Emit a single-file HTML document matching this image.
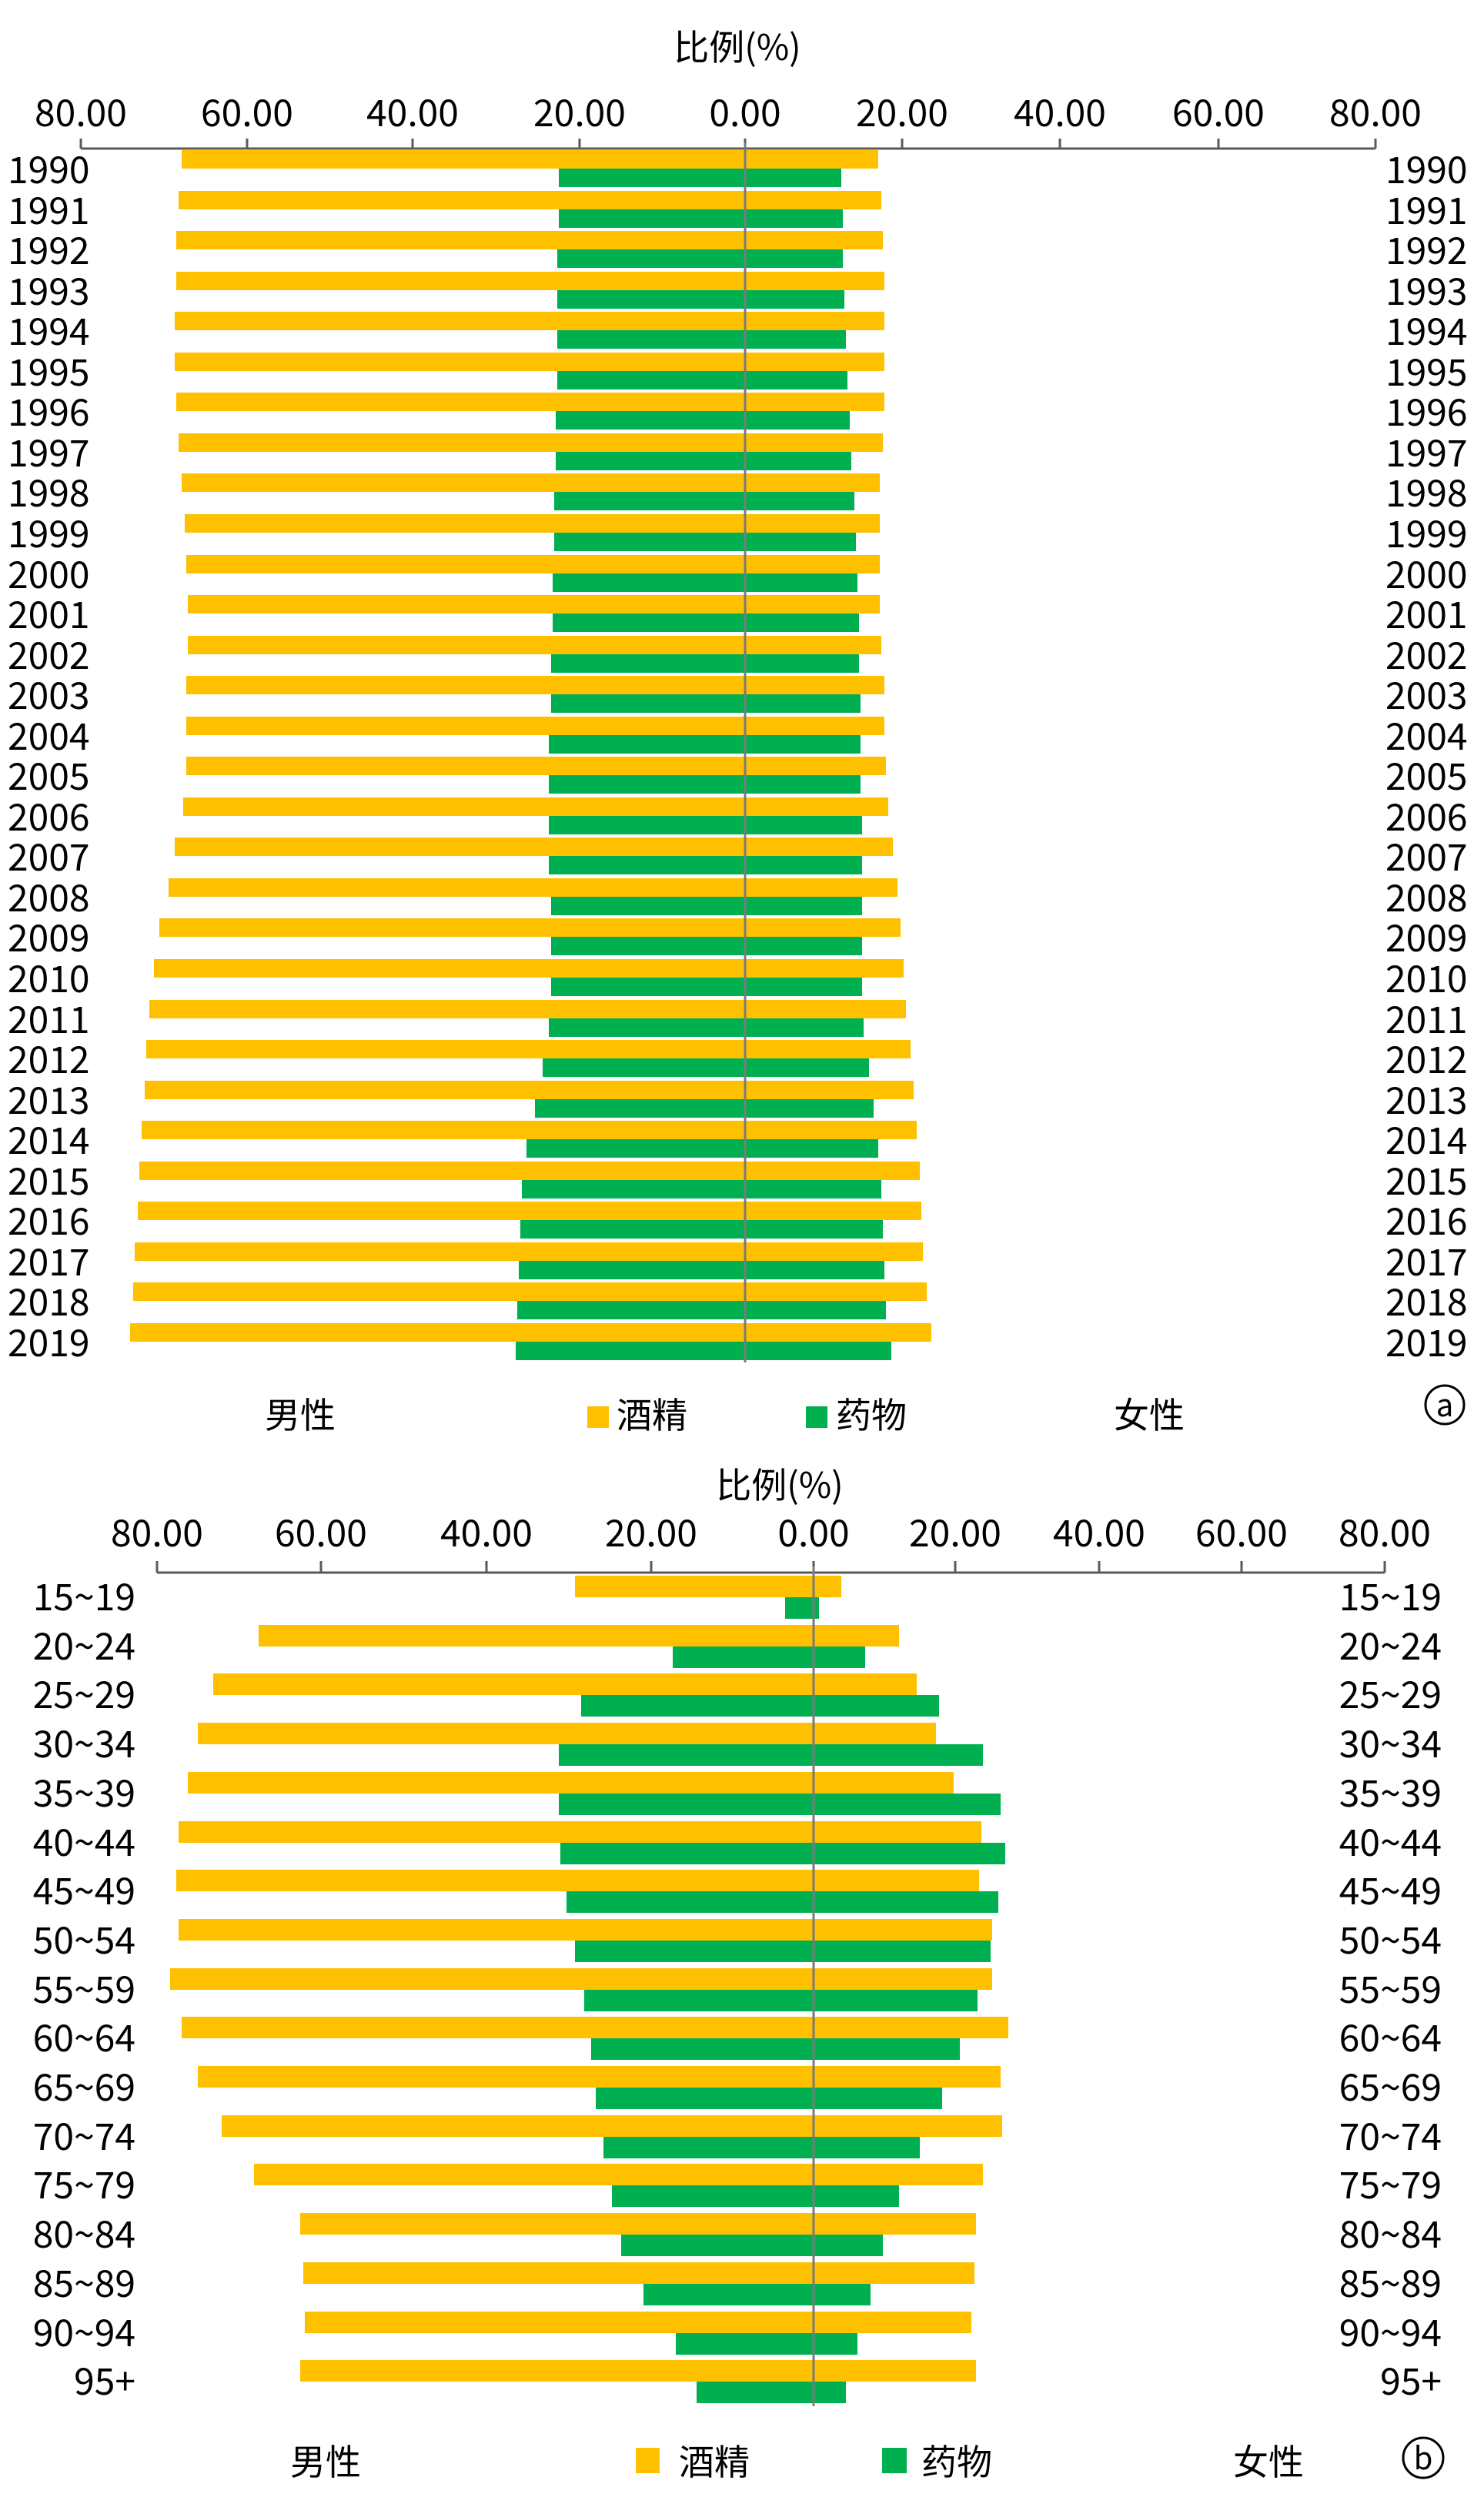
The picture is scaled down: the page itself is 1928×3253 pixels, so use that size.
<!DOCTYPE html>
<html><head><meta charset="utf-8"><style>
html,body{margin:0;padding:0;background:#fff}
svg{display:block}
text{font-family:"Noto Sans CJK SC","Liberation Sans",sans-serif;fill:#000}
</style></head><body>
<svg width="1928" height="3253" viewBox="0 0 1928 3253" xmlns="http://www.w3.org/2000/svg">
<!-- Chart a -->
<text x="958" y="78" font-size="46" text-anchor="middle">比例(%)</text>
<g font-size="48" text-anchor="middle">
<text x="105" y="164">80.00</text><text x="321" y="164">60.00</text><text x="536" y="164">40.00</text><text x="753" y="164">20.00</text><text x="968" y="164">0.00</text><text x="1172" y="164">20.00</text><text x="1377" y="164">40.00</text><text x="1583" y="164">60.00</text><text x="1787" y="164">80.00</text>
</g>
<g stroke="#5a5a5a" stroke-width="3" fill="none">
<line x1="105" y1="193" x2="1787" y2="193"/>
<line x1="105" y1="180" x2="105" y2="193"/><line x1="321" y1="180" x2="321" y2="193"/><line x1="536" y1="180" x2="536" y2="193"/><line x1="753" y1="180" x2="753" y2="193"/><line x1="968" y1="180" x2="968" y2="193"/><line x1="1172" y1="180" x2="1172" y2="193"/><line x1="1377" y1="180" x2="1377" y2="193"/><line x1="1583" y1="180" x2="1583" y2="193"/><line x1="1787" y1="180" x2="1787" y2="193"/>
</g>
<g fill="#FFC000">
<rect x="236" y="195" width="905" height="24"/>
<rect x="232" y="248" width="913" height="24"/>
<rect x="229" y="300" width="918" height="24"/>
<rect x="229" y="353" width="920" height="24"/>
<rect x="227" y="405" width="922" height="24"/>
<rect x="227" y="458" width="922" height="24"/>
<rect x="229" y="510" width="920" height="24"/>
<rect x="232" y="563" width="915" height="24"/>
<rect x="236" y="615" width="907" height="24"/>
<rect x="240" y="668" width="903" height="24"/>
<rect x="242" y="721" width="901" height="24"/>
<rect x="244" y="773" width="899" height="24"/>
<rect x="244" y="826" width="901" height="24"/>
<rect x="242" y="878" width="907" height="24"/>
<rect x="242" y="931" width="907" height="24"/>
<rect x="242" y="983" width="909" height="24"/>
<rect x="238" y="1036" width="916" height="24"/>
<rect x="227" y="1088" width="933" height="24"/>
<rect x="219" y="1141" width="947" height="24"/>
<rect x="207" y="1193" width="963" height="24"/>
<rect x="200" y="1246" width="974" height="24"/>
<rect x="194" y="1299" width="983" height="24"/>
<rect x="190" y="1351" width="993" height="24"/>
<rect x="188" y="1404" width="999" height="24"/>
<rect x="184" y="1456" width="1007" height="24"/>
<rect x="181" y="1509" width="1014" height="24"/>
<rect x="179" y="1561" width="1018" height="24"/>
<rect x="175" y="1614" width="1024" height="24"/>
<rect x="173" y="1666" width="1031" height="24"/>
<rect x="169" y="1719" width="1041" height="24"/>
</g>
<g fill="#00B050">
<rect x="726" y="219" width="367" height="24"/>
<rect x="726" y="272" width="369" height="24"/>
<rect x="724" y="324" width="371" height="24"/>
<rect x="724" y="377" width="373" height="24"/>
<rect x="724" y="429" width="375" height="24"/>
<rect x="724" y="482" width="377" height="24"/>
<rect x="722" y="534" width="382" height="24"/>
<rect x="722" y="587" width="384" height="24"/>
<rect x="720" y="639" width="390" height="24"/>
<rect x="720" y="692" width="392" height="24"/>
<rect x="718" y="745" width="396" height="24"/>
<rect x="718" y="797" width="398" height="24"/>
<rect x="716" y="850" width="400" height="24"/>
<rect x="716" y="902" width="402" height="24"/>
<rect x="713" y="955" width="405" height="24"/>
<rect x="713" y="1007" width="405" height="24"/>
<rect x="713" y="1060" width="407" height="24"/>
<rect x="713" y="1112" width="407" height="24"/>
<rect x="716" y="1165" width="404" height="24"/>
<rect x="716" y="1217" width="404" height="24"/>
<rect x="716" y="1270" width="404" height="24"/>
<rect x="713" y="1323" width="409" height="24"/>
<rect x="705" y="1375" width="424" height="24"/>
<rect x="695" y="1428" width="440" height="24"/>
<rect x="684" y="1480" width="457" height="24"/>
<rect x="678" y="1533" width="467" height="24"/>
<rect x="676" y="1585" width="471" height="24"/>
<rect x="674" y="1638" width="475" height="24"/>
<rect x="672" y="1690" width="479" height="24"/>
<rect x="670" y="1743" width="488" height="24"/>
</g>
<line x1="968" y1="185" x2="968" y2="1770" stroke="#7a7a7a" stroke-width="3"/>
<g font-size="48">
<g text-anchor="start">
<text x="10" y="238">1990</text><text x="10" y="291">1991</text><text x="10" y="343">1992</text><text x="10" y="396">1993</text><text x="10" y="448">1994</text><text x="10" y="501">1995</text><text x="10" y="553">1996</text><text x="10" y="606">1997</text><text x="10" y="658">1998</text><text x="10" y="711">1999</text><text x="10" y="764">2000</text><text x="10" y="816">2001</text><text x="10" y="869">2002</text><text x="10" y="921">2003</text><text x="10" y="974">2004</text><text x="10" y="1026">2005</text><text x="10" y="1079">2006</text><text x="10" y="1131">2007</text><text x="10" y="1184">2008</text><text x="10" y="1236">2009</text><text x="10" y="1289">2010</text><text x="10" y="1342">2011</text><text x="10" y="1394">2012</text><text x="10" y="1447">2013</text><text x="10" y="1499">2014</text><text x="10" y="1552">2015</text><text x="10" y="1604">2016</text><text x="10" y="1657">2017</text><text x="10" y="1709">2018</text><text x="10" y="1762">2019</text>
</g>
<g text-anchor="start">
<text x="1800" y="238">1990</text><text x="1800" y="291">1991</text><text x="1800" y="343">1992</text><text x="1800" y="396">1993</text><text x="1800" y="448">1994</text><text x="1800" y="501">1995</text><text x="1800" y="553">1996</text><text x="1800" y="606">1997</text><text x="1800" y="658">1998</text><text x="1800" y="711">1999</text><text x="1800" y="764">2000</text><text x="1800" y="816">2001</text><text x="1800" y="869">2002</text><text x="1800" y="921">2003</text><text x="1800" y="974">2004</text><text x="1800" y="1026">2005</text><text x="1800" y="1079">2006</text><text x="1800" y="1131">2007</text><text x="1800" y="1184">2008</text><text x="1800" y="1236">2009</text><text x="1800" y="1289">2010</text><text x="1800" y="1342">2011</text><text x="1800" y="1394">2012</text><text x="1800" y="1447">2013</text><text x="1800" y="1499">2014</text><text x="1800" y="1552">2015</text><text x="1800" y="1604">2016</text><text x="1800" y="1657">2017</text><text x="1800" y="1709">2018</text><text x="1800" y="1762">2019</text>
</g>
</g>
<g font-size="46">
<text x="344" y="1855">男性</text>
<rect x="763" y="1827" width="28" height="28" fill="#FFC000"/>
<text x="801" y="1855">酒精</text>
<rect x="1047" y="1827" width="28" height="28" fill="#00B050"/>
<text x="1086" y="1855">药物</text>
<text x="1447" y="1855">女性</text>
</g>
<circle cx="1877" cy="1825" r="25" fill="none" stroke="#000" stroke-width="3"/>
<text x="1877" y="1840" font-size="40" text-anchor="middle">a</text>

<!-- Chart b -->
<text x="1013" y="1946" font-size="46" text-anchor="middle">比例(%)</text>
<g font-size="48" text-anchor="middle">
<text x="204" y="2009">80.00</text><text x="417" y="2009">60.00</text><text x="632" y="2009">40.00</text><text x="846" y="2009">20.00</text><text x="1057" y="2009">0.00</text><text x="1241" y="2009">20.00</text><text x="1428" y="2009">40.00</text><text x="1613" y="2009">60.00</text><text x="1799" y="2009">80.00</text>
</g>
<g stroke="#5a5a5a" stroke-width="3" fill="none">
<line x1="204" y1="2043" x2="1799" y2="2043"/>
<line x1="204" y1="2028" x2="204" y2="2043"/><line x1="417" y1="2028" x2="417" y2="2043"/><line x1="632" y1="2028" x2="632" y2="2043"/><line x1="846" y1="2028" x2="846" y2="2043"/><line x1="1057" y1="2028" x2="1057" y2="2043"/><line x1="1241" y1="2028" x2="1241" y2="2043"/><line x1="1428" y1="2028" x2="1428" y2="2043"/><line x1="1613" y1="2028" x2="1613" y2="2043"/><line x1="1799" y1="2028" x2="1799" y2="2043"/>
</g>
<g fill="#FFC000">
<rect x="747" y="2047" width="346" height="28"/>
<rect x="336" y="2111" width="832" height="28"/>
<rect x="277" y="2174" width="914" height="28"/>
<rect x="257" y="2238" width="959" height="28"/>
<rect x="244" y="2302" width="995" height="28"/>
<rect x="232" y="2366" width="1043" height="28"/>
<rect x="229" y="2429" width="1043" height="28"/>
<rect x="232" y="2493" width="1057" height="28"/>
<rect x="221" y="2557" width="1068" height="28"/>
<rect x="236" y="2620" width="1074" height="28"/>
<rect x="257" y="2684" width="1043" height="28"/>
<rect x="288" y="2748" width="1014" height="28"/>
<rect x="330" y="2811" width="947" height="28"/>
<rect x="390" y="2875" width="878" height="28"/>
<rect x="394" y="2939" width="872" height="28"/>
<rect x="396" y="3003" width="866" height="28"/>
<rect x="390" y="3066" width="878" height="28"/>
</g>
<g fill="#00B050">
<rect x="1020" y="2075" width="44" height="28"/>
<rect x="874" y="2139" width="250" height="28"/>
<rect x="755" y="2202" width="465" height="28"/>
<rect x="726" y="2266" width="551" height="28"/>
<rect x="726" y="2330" width="574" height="28"/>
<rect x="728" y="2394" width="578" height="28"/>
<rect x="736" y="2457" width="561" height="28"/>
<rect x="747" y="2521" width="540" height="28"/>
<rect x="759" y="2585" width="511" height="28"/>
<rect x="768" y="2648" width="479" height="28"/>
<rect x="774" y="2712" width="450" height="28"/>
<rect x="784" y="2776" width="411" height="28"/>
<rect x="795" y="2839" width="373" height="28"/>
<rect x="807" y="2903" width="340" height="28"/>
<rect x="836" y="2967" width="295" height="28"/>
<rect x="878" y="3031" width="236" height="28"/>
<rect x="905" y="3094" width="194" height="28"/>
</g>
<line x1="1057" y1="2035" x2="1057" y2="3126" stroke="#7a7a7a" stroke-width="3"/>
<g font-size="48" text-anchor="end">
<text x="176" y="2092">15~19</text><text x="176" y="2156">20~24</text><text x="176" y="2219">25~29</text><text x="176" y="2283">30~34</text><text x="176" y="2347">35~39</text><text x="176" y="2411">40~44</text><text x="176" y="2474">45~49</text><text x="176" y="2538">50~54</text><text x="176" y="2602">55~59</text><text x="176" y="2665">60~64</text><text x="176" y="2729">65~69</text><text x="176" y="2793">70~74</text><text x="176" y="2856">75~79</text><text x="176" y="2920">80~84</text><text x="176" y="2984">85~89</text><text x="176" y="3048">90~94</text><text x="176" y="3111">95+</text>
<text x="1873" y="2092">15~19</text><text x="1873" y="2156">20~24</text><text x="1873" y="2219">25~29</text><text x="1873" y="2283">30~34</text><text x="1873" y="2347">35~39</text><text x="1873" y="2411">40~44</text><text x="1873" y="2474">45~49</text><text x="1873" y="2538">50~54</text><text x="1873" y="2602">55~59</text><text x="1873" y="2665">60~64</text><text x="1873" y="2729">65~69</text><text x="1873" y="2793">70~74</text><text x="1873" y="2856">75~79</text><text x="1873" y="2920">80~84</text><text x="1873" y="2984">85~89</text><text x="1873" y="3048">90~94</text><text x="1873" y="3111">95+</text>
</g>
<g font-size="46">
<text x="377" y="3215">男性</text>
<rect x="826" y="3180" width="31" height="33" fill="#FFC000"/>
<text x="882" y="3215">酒精</text>
<rect x="1146" y="3180" width="32" height="33" fill="#00B050"/>
<text x="1197" y="3215">药物</text>
<text x="1602" y="3215">女性</text>
</g>
<circle cx="1849" cy="3193" r="26" fill="none" stroke="#000" stroke-width="3"/>
<text x="1849" y="3208" font-size="40" text-anchor="middle">b</text>
</svg>
</body></html>
